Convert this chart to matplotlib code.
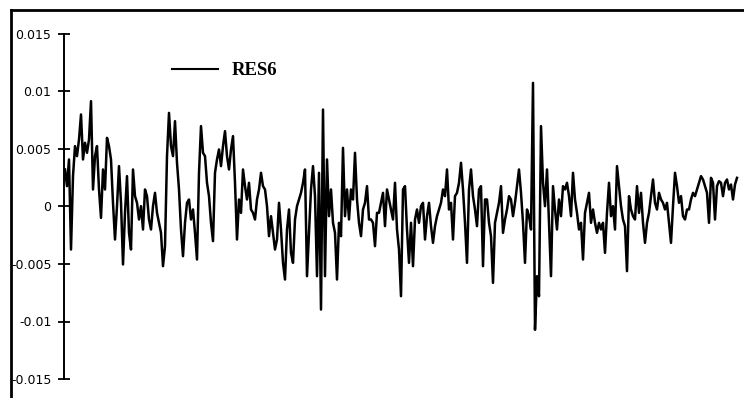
import matplotlib
matplotlib.use('Agg')
import matplotlib.pyplot as plt
from matplotlib.lines import Line2D
import numpy as np

# RES6 residual series (units of 1e-3)
res6_milli = [
    # first stretch
    3.22, 1.77, 4.09, -3.74, 2.64, 5.25, 4.38, 5.83, 8.0, 4.09, 5.54, 4.67, 5.83, 9.16,
    1.48, 4.38, 5.25, 1.48, -0.99, 3.22, 1.48, 5.97, 5.25, 4.09, 0.32, -2.87, 0.03, 3.51,
    0.32, -5.04, -0.55, 2.64, -2.29, -3.74, 3.22, 0.90, 0.32, -1.13, 0.03, -2.0, 1.48,
    # second
    0.90, -1.13, -2.0, 0.03, 1.19, -0.55, -1.42, -2.29, -5.19, -3.45, 4.38, 8.14, 5.25,
    4.38, 7.42, 3.80, 1.48, -2.0, -4.32, -1.42, 0.32, 0.61, -1.13, -0.26, -2.29, -4.61,
    2.93, 6.99, 4.67, 4.38, 2.06, 0.90, -1.42, -3.01, 2.93, 4.09, 4.96, 3.51, 5.25, 6.55,
    4.38, 3.22, 4.96,
    # third
    6.12, 2.06, -2.87, 0.61, -0.55, 3.22, 1.77, 0.61, 2.06, -0.26, -0.55, -1.13, 0.61,
    1.48, 2.93, 1.77, 1.48, 0.03, -2.58, -0.84, -2.29, -3.74, -2.87, 0.32, -2.0, -4.90,
    -6.35, -2.0, -0.26, -4.03, -4.90, -1.13, 0.03, 0.61, 1.19, 2.06, 3.22, -6.06, -2.29,
    1.48, 3.51, 0.90, -6.06,
    # fourth
    2.93, -8.96, 8.43, -6.06, 4.09, -0.84, 1.48, -1.42, -2.29, -6.35, -1.42, -2.58, 5.10,
    -0.84, 1.48, -1.13, 1.48, 0.61, 4.67, 0.61, -1.42, -2.58, -0.26, 0.32, 1.77, -1.13,
    -1.13, -1.42, -3.45, -0.55, -0.55, 0.32, 1.19, -1.71, 1.48, 0.61, -0.26, -1.13, 2.06,
    -2.0, -3.74, -7.80, 1.48,
    # fifth
    1.77, -2.0, -4.90, -1.42, -5.19, -1.13, -0.26, -1.42, 0.03, 0.32, -2.87, -0.84, 0.32,
    -1.71, -3.16, -1.71, -0.84, -0.26, 0.32, 1.48, 0.90, 3.22, -0.26, 0.32, -2.87, 0.90,
    1.19, 2.06, 3.80, 1.48, -1.42, -4.90, 1.48, 3.22, 0.90, -0.26, -1.71, 1.48, 1.77,
    -5.19, 0.61, 0.61, -1.42,
    # sixth
    -2.58, -6.64, -1.42, -0.55, 0.32, 1.77, -2.29, -1.13, -0.26, 0.90, 0.61, -0.84, 0.32,
    1.77, 3.22, 1.19, -1.42, -4.90, -0.26, -0.84, -2.0, 10.75, -10.72, -6.06, -7.80, 6.99,
    2.06, 0.03, 3.22, -1.42, -6.06, 1.77, -0.26, -2.0, 0.61, -0.84, 1.77, 1.48, 2.06,
    0.90, -0.84, 2.93, 0.61,
    # seventh
    -0.55, -2.0, -1.42, -4.61, -0.55, 0.32, 1.19, -1.42, -0.26, -1.42, -2.29, -1.42, -2.0,
    -1.42, -4.03, -0.55, 2.06, -0.84, 0.03, -2.0, 3.51, 1.77, 0.03, -1.13, -1.71, -5.62,
    0.90, -0.26, -0.84, -1.13, 1.77, -0.55, 1.19, -1.42, -3.16, -1.42, -0.55, 0.90, 2.35,
    0.32, -0.26, 1.19, 0.61,
    # last
    0.32, -0.26, 0.32, -1.42, -3.16, 0.03, 2.93, 1.77, 0.32, 0.90, -0.84, -1.13, -0.26,
    -0.26, 0.61, 1.19, 0.90, 1.48, 2.06, 2.64, 2.35, 1.77, 1.19, -1.42, 2.49, 2.06, -1.13,
    1.77, 2.20, 2.06, 0.90, 2.06, 2.35, 1.48, 1.91, 0.61, 1.91, 2.49,
]
series_name = 'RES6'
ytick_values = [0.015, 0.01, 0.005, 0, -0.005, -0.01, -0.015]
ytick_labels = ['0.015', '0.01', '0.005', '0', '-0.005', '-0.01', '-0.015']

res6 = np.array(res6_milli) * 1e-3
t = np.arange(len(res6))

W, H = 744, 398
fig = plt.figure(figsize=(W / 100, H / 100), dpi=100)

# axes box in pixels: x 64..740, y 34..379 (from top)
ax = fig.add_axes([64 / W, (H - 379) / H, 676 / W, 345 / H])
ax.plot(t, res6, color='black', linewidth=1.8, label=series_name)

ax.set_xlim(-0.5, 337.5)
ax.set_ylim(-0.015, 0.015)

for side in ['top', 'right', 'bottom']:
    ax.spines[side].set_visible(False)
ax.spines['left'].set_linewidth(1.4)

ax.set_xticks([])
ax.set_yticks(ytick_values)
ax.set_yticklabels(ytick_labels, fontsize=9, family='DejaVu Sans')
ax.tick_params(axis='y', direction='inout', length=8, width=1.3, pad=5)

leg = ax.legend(loc='center left', bbox_to_anchor=(0.16, 0.893), frameon=False,
                borderpad=0, borderaxespad=0, handlelength=2.45, handletextpad=0.75,
                prop={'family': 'Liberation Serif', 'weight': 'bold', 'size': 13.5})
leg.get_lines()[0].set_linewidth(1.5)

# scanned page frame (left and top edges)
fig.add_artist(Line2D([11 / W, 11 / W], [0, 1 - 10 / H], color='black', linewidth=2))
fig.add_artist(Line2D([11 / W, 1], [1 - 10 / H, 1 - 10 / H], color='black', linewidth=2))

fig.savefig('out.png', dpi=100)
